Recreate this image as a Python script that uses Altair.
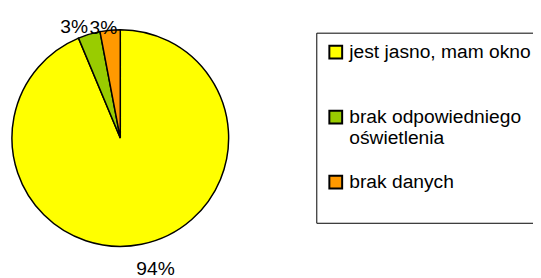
import altair as alt
import pandas as pd

FONT = "Liberation Sans, Arial, sans-serif"

categories = ["jest jasno, mam okno", "brak odpowiedniego\noświetlenia", "brak danych\n "]
shares = [0.937, 0.033, 0.030]
colors = ["#FFFF00", "#99CC00", "#FF9900"]
order = [0, 1, 2]

df = pd.DataFrame({"kategoria": categories, "udzial": shares, "kolejnosc": order})

base = alt.Chart(df).transform_stack(
    stack="udzial", groupby=[], as_=["t0", "t1"],
    sort=[alt.SortField("kolejnosc")], offset="normalize"
).transform_calculate(mid="(datum.t0 + datum.t1) / 2")

theta_scale = alt.Scale(domain=[0, 1])

pie = base.mark_arc(outerRadius=110, stroke="black", strokeWidth=1.5).encode(
    theta=alt.Theta("t0:Q", scale=theta_scale),
    theta2="t1:Q",
    color=alt.Color(
        "kategoria:N",
        scale=alt.Scale(domain=categories, range=colors),
        legend=alt.Legend(
            title=None, orient="none", legendX=313, legendY=23,
            symbolType="square", symbolSize=169, symbolStrokeColor="black",
            symbolStrokeWidth=2, labelFont=FONT, labelFontSize=19.5,
            labelColor="black", labelLimit=400, labelOffset=4, rowPadding=24,
            gridAlign="all", padding=10, strokeColor="black",
            labelExpr="split(datum.label, '\\n')",
        ),
    ),
)


def label_layer(idx, radius, dx, dy):
    return base.transform_filter(f"datum.kolejnosc == {idx}").mark_text(
        radius=radius, font=FONT, fontSize=19.5, color="black", dx=dx, dy=dy
    ).encode(
        theta=alt.Theta("mid:Q", scale=theta_scale),
        text=alt.Text("udzial:Q", format=".0%"),
    )


labels = [label_layer(0, 136, 9, 0), label_layer(1, 121, -12, 3), label_layer(2, 118, -6, 6)]

chart = alt.layer(pie, *labels).properties(
    width=228, height=260, autosize="none",
    padding={"left": 0, "top": 0, "right": 305, "bottom": 10},
).configure_view(stroke=None).configure_legend(strokeWidth=1.5).configure(font=FONT)

chart.save("out.html", embed_options={"renderer": "svg", "actions": False})
